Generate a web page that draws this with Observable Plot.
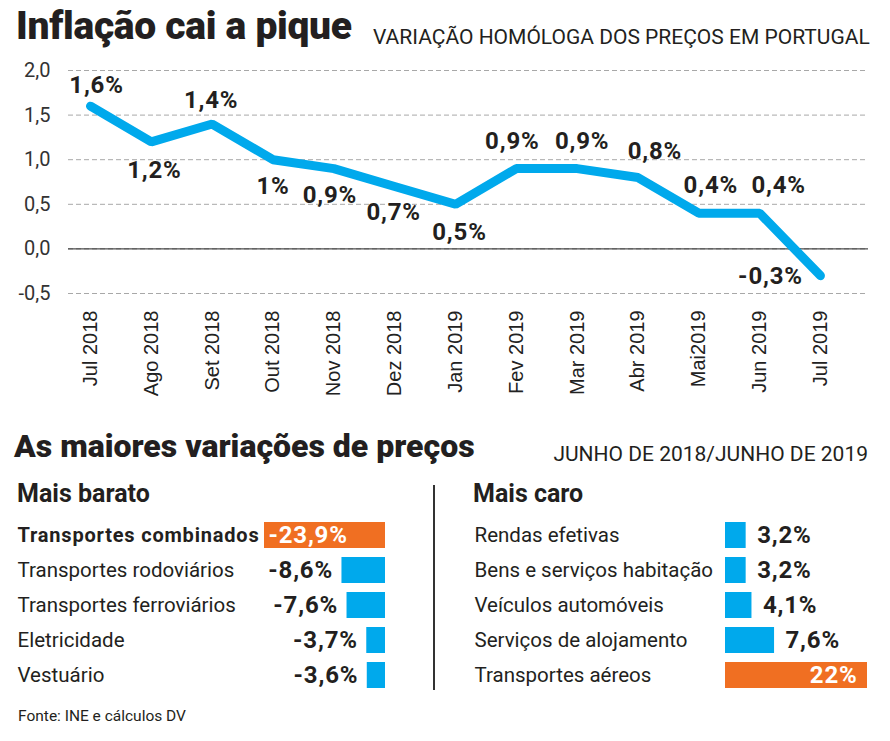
<!DOCTYPE html>
<html><head><meta charset="utf-8">
<script src="https://cdn.jsdelivr.net/npm/d3@7"></script>
<script src="https://cdn.jsdelivr.net/npm/@observablehq/plot@0.6"></script>
<style>
body{margin:0;background:#fff;}
#root{position:relative;width:890px;height:741px;overflow:hidden;font-family:Roboto,sans-serif;color:#231f20;}
.abs{position:absolute;white-space:nowrap;line-height:1;}
#root svg{position:absolute;overflow:visible;}
#root svg g[aria-label="text"][font-weight="700"]{letter-spacing:0.8px;}
</style></head><body><div id="root"></div>
<script>
// ---- data ----
const months = ["Jul 2018","Ago 2018","Set 2018","Out 2018","Nov 2018","Dez 2018","Jan 2019","Fev 2019","Mar 2019","Abr 2019","Mai2019","Jun 2019","Jul 2019"];
const inflation = [1.6,1.2,1.4,1.0,0.9,0.7,0.5,0.9,0.9,0.8,0.4,0.4,-0.3];
const inflationLabels = ["1,6%","1,2%","1,4%","1%","0,9%","0,7%","0,5%","0,9%","0,9%","0,8%","0,4%","0,4%","-0,3%"];
const yTicks = [-0.5,0,0.5,1,1.5,2];

const cheaperNames = ["Transportes combinados","Transportes rodoviários","Transportes ferroviários","Eletricidade","Vestuário"];
const cheaperValues = [-23.9,-8.6,-7.6,-3.7,-3.6];
const cheaperLabels = ["-23,9%","-8,6%","-7,6%","-3,7%","-3,6%"];

const dearerNames = ["Rendas efetivas","Bens e serviços habitação","Veículos automóveis","Serviços de alojamento","Transportes aéreos"];
const dearerValues = [3.2,3.2,4.1,7.6,22];
const dearerLabels = ["3,2%","3,2%","4,1%","7,6%","22%"];

// ---- layout / style ----
const BLUE = "#00a9ec", ORANGE = "#f06f22", INK = "#231f20";
const labelOffsets = [[6,-21],[3,28],[-1,-24],[0,27],[-4,27],[-1,26],[4,28],[-4,-27],[5,-27],[17,-26],[12,-28],[19,-28],[-50,1]];
const root = document.getElementById("root");
function addText(txt, css){ const d=document.createElement("div"); d.className="abs"; d.textContent=txt; Object.assign(d.style, css); root.appendChild(d); return d; }
function place(svg, left, top){ svg.style.left=left+"px"; svg.style.top=top+"px"; root.appendChild(svg); }

addText("Inflação cai a pique", {left:"16px", top:"7px", fontSize:"39px", fontWeight:"900", letterSpacing:"-0.3px"});
addText("VARIAÇÃO HOMÓLOGA DOS PREÇOS EM PORTUGAL", {left:"373px", top:"27px", fontSize:"21px", fontWeight:"400"});
addText("As maiores variações de preços", {left:"14px", top:"430px", fontSize:"32px", fontWeight:"900"});
addText("JUNHO DE 2018/JUNHO DE 2019", {right:"22px", top:"444px", fontSize:"21px", fontWeight:"400"});
addText("Mais barato", {left:"17px", top:"481px", fontSize:"25px", fontWeight:"700"});
addText("Mais caro", {left:"473px", top:"481px", fontSize:"25px", fontWeight:"700"});
addText("Fonte: INE e cálculos DV", {left:"18px", top:"709px", fontSize:"15.5px", fontWeight:"400"});
const div = document.createElement("div");
Object.assign(div.style,{position:"absolute",left:"433px",top:"485px",width:"1.5px",height:"205px",background:"#333"});
root.appendChild(div);

// ---- line chart ----
const lineData = months.map((m,i)=>({i, month:m, value:inflation[i], label:inflationLabels[i]}));
const fmt = d => d.toFixed(1).replace(".", ",");
const lineChart = Plot.plot({
  width: 890, height: 345, marginTop: 15, marginBottom: 107, marginLeft: 68, marginRight: 22,
  style: {fontFamily: "Roboto", background: "transparent"},
  x: {domain: [-0.362, 12.79], label: null},
  y: {domain: [-0.5, 2], label: null},
  marks: [
    Plot.gridY(yTicks, {stroke: "#a8a8a8", strokeOpacity: 1, strokeDasharray: "5,3"}),
    Plot.ruleY([0], {stroke: "#222", strokeWidth: 1}),
    Plot.axisY(yTicks, {tickSize: 0, tickPadding: 18, tickFormat: fmt, fontSize: 20, fill: "#333", label: null}),
    Plot.axisX(d3.range(months.length), {tickSize: 0, tickPadding: 17, tickRotate: -90, tickFormat: i => months[i], fontSize: 20, fontFamily: "Liberation Sans", fill: "#222", label: null}),
    Plot.line(lineData, {x: "i", y: "value", stroke: BLUE, strokeWidth: 9, strokeLinecap: "round", strokeLinejoin: "miter"}),
    ...lineData.map((d,k) => Plot.text([d], {x: "i", y: "value", text: "label", dx: labelOffsets[k][0], dy: labelOffsets[k][1], fontSize: 24, fontWeight: 700, fill: INK}))
  ]
});
place(lineChart, 0, 55);

// ---- bar charts ----
const cheaper = cheaperNames.map((n,i)=>({name:n, value:cheaperValues[i], label:cheaperLabels[i], top: Math.abs(cheaperValues[i]) === d3.max(cheaperValues, Math.abs)}));
const dearer = dearerNames.map((n,i)=>({name:n, value:dearerValues[i], label:dearerLabels[i], top: dearerValues[i] === d3.max(dearerValues)}));

const leftChart = Plot.plot({
  width: 433, height: 188, marginTop: 0, marginBottom: 0, marginLeft: 264, marginRight: 48,
  style: {fontFamily: "Roboto", background: "transparent"},
  x: {domain: [-23.9, 0], axis: null},
  y: {domain: cheaperNames, padding: 0.27, axis: null},
  marks: [
    Plot.barX(cheaper, {x: "value", y: "name", fill: d => d.top ? ORANGE : BLUE}),
    Plot.text(cheaper.filter(d=>!d.top), {y: "name", text: "name", frameAnchor: "left", textAnchor: "start", dx: -247, fontSize: 20.5, fill: INK}),
    Plot.text(cheaper.filter(d=>d.top), {y: "name", text: "name", frameAnchor: "left", textAnchor: "start", dx: -247, fontSize: 20, fontWeight: 700, fill: INK}),
    Plot.text(cheaper.filter(d=>!d.top), {x: "value", y: "name", text: "label", textAnchor: "end", dx: -9, fontSize: 24, fontWeight: 700, fill: INK}),
    Plot.text(cheaper.filter(d=>d.top), {x: "value", y: "name", text: "label", textAnchor: "start", dx: 4, fontSize: 24, fontWeight: 700, fill: "#fff"})
  ]
});
place(leftChart, 0, 511);

const rightChart = Plot.plot({
  width: 457, height: 188, marginTop: 0, marginBottom: 0, marginLeft: 292, marginRight: 23,
  style: {fontFamily: "Roboto", background: "transparent"},
  x: {domain: [0, 22], axis: null},
  y: {domain: dearerNames, padding: 0.27, axis: null},
  marks: [
    Plot.barX(dearer, {x: "value", y: "name", fill: d => d.top ? ORANGE : BLUE}),
    Plot.text(dearer, {y: "name", text: "name", frameAnchor: "left", textAnchor: "start", dx: -251, fontSize: 20.5, fill: INK}),
    Plot.text(dearer.filter(d=>!d.top), {x: "value", y: "name", text: "label", textAnchor: "start", dx: 11, fontSize: 24, fontWeight: 700, fill: INK}),
    Plot.text(dearer.filter(d=>d.top), {x: "value", y: "name", text: "label", textAnchor: "end", dx: -10, fontSize: 24, fontWeight: 700, fill: "#fff"})
  ]
});
place(rightChart, 433, 511);
</script></body></html>
